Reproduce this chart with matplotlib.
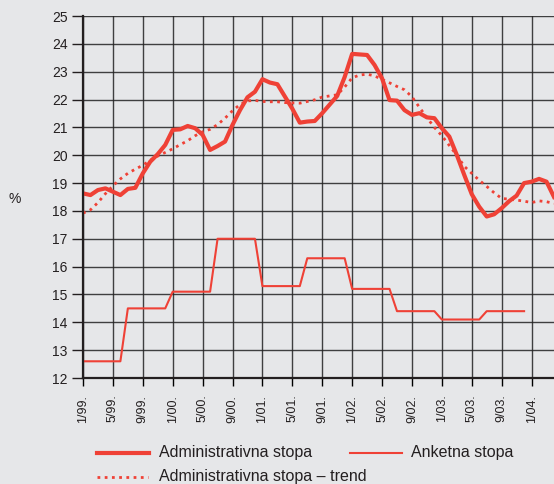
import matplotlib
matplotlib.use("Agg")
import matplotlib.pyplot as plt
from matplotlib.lines import Line2D
import numpy as np

plt.rcParams['font.family'] = ['Liberation Sans', 'DejaVu Sans']

# month index, 0 = 1/99
months = np.arange(64)

admin = [18.63, 18.57, 18.75, 18.81, 18.69, 18.57, 18.79, 18.83, 19.35, 19.77,
         20.04, 20.37, 20.91, 20.93, 21.05, 20.97, 20.73, 20.19, 20.33, 20.49,
         21.09, 21.62, 22.08, 22.28, 22.73, 22.61, 22.55, 22.11, 21.67, 21.17,
         21.21, 21.23, 21.51, 21.82, 22.13, 22.81, 23.64, 23.62, 23.60, 23.24,
         22.76, 21.98, 21.96, 21.62, 21.45, 21.51, 21.36, 21.33, 20.97, 20.67,
         20.01, 19.29, 18.60, 18.15, 17.80, 17.88, 18.10, 18.35, 18.55, 19.00,
         19.05, 19.15, 19.05, 18.50]

trend = [17.92, 18.04, 18.30, 18.62, 18.90, 19.15, 19.35, 19.50, 19.64, 19.82,
         19.97, 20.10, 20.23, 20.38, 20.52, 20.70, 20.84, 20.93, 21.10, 21.33,
         21.60, 21.82, 21.95, 21.97, 21.93, 21.92, 21.92, 21.89, 21.88, 21.87,
         21.93, 21.99, 22.09, 22.13, 22.17, 22.45, 22.78, 22.88, 22.91, 22.85,
         22.72, 22.60, 22.47, 22.35, 22.10, 21.72, 21.35, 21.00, 20.70, 20.35,
         20.00, 19.60, 19.35, 19.10, 18.88, 18.65, 18.45, 18.42, 18.39, 18.35,
         18.30, 18.36, 18.33, 18.27]

# survey rate, quarterly levels repeated monthly (ends 12/03)
survey_levels = [12.6, 14.5, 15.1, 17.0, 15.3, 16.3, 15.2, 14.4, 14.1, 14.4]
survey = np.repeat(survey_levels, 6)[:60]

tick_pos = np.arange(0, 61, 4)
tick_labels = ['1/99.', '5/99.', '9/99.', '1/00.', '5/00.', '9/00.', '1/01.', '5/01.',
               '9/01.', '1/02.', '5/02.', '9/02.', '1/03.', '5/03.', '9/03.', '1/04.']

red = '#ef4136'
bg = '#e6e7e9'
ink = '#231f20'

fig = plt.figure(figsize=(5.54, 4.84), dpi=100, facecolor=bg)
ax = fig.add_axes([83 / 554, 1 - 378 / 484, 1 - 83 / 554, (378 - 16) / 484])
ax.set_facecolor(bg)

ax.set_xlim(0, 63)
ax.set_ylim(12, 25)
ax.set_xticks(tick_pos)
ax.set_xticklabels(tick_labels, rotation=90, fontsize=9, color=ink)
ax.set_yticks(range(12, 26))
ax.tick_params(axis='y', labelsize=10, colors=ink, length=8, width=1, pad=3)
ax.tick_params(axis='x', length=6, width=1, pad=6)
ax.grid(True, color='#222222', lw=1.0, alpha=0.85)
ax.set_axisbelow(True)
for s in ['top', 'right']:
    ax.spines[s].set_visible(False)
for s in ['left', 'bottom']:
    ax.spines[s].set_linewidth(1.6)
    ax.spines[s].set_color(ink)

ax.plot(months[:len(survey)], survey, color=red, lw=1.5)
ax.plot(months, trend, color=red, lw=2, ls=(0, (1, 1.6)))
ax.plot(months, admin, color=red, lw=3)

fig.text(15 / 554, 1 - 199 / 484, '%', fontsize=10, color=ink, ha='center', va='center')

# legend drawn by hand
ly1 = 1 - 453 / 484
ly2 = 1 - 477 / 484
fig.add_artist(Line2D([97 / 554, 149 / 554], [ly1, ly1], color=red, lw=3))
fig.add_artist(Line2D([350 / 554, 402 / 554], [ly1, ly1], color=red, lw=1.5))
fig.add_artist(Line2D([97 / 554, 148 / 554], [ly2, ly2], color=red, lw=2, ls=(0, (1, 1.6))))
fig.text(159 / 554, ly1, 'Administrativna stopa', fontsize=11.5, color=ink, va='center')
fig.text(411 / 554, ly1, 'Anketna stopa', fontsize=11.5, color=ink, va='center')
fig.text(159 / 554, ly2, 'Administrativna stopa – trend', fontsize=11.5, color=ink, va='center')

fig.savefig('out.png', dpi=100, facecolor=bg)
